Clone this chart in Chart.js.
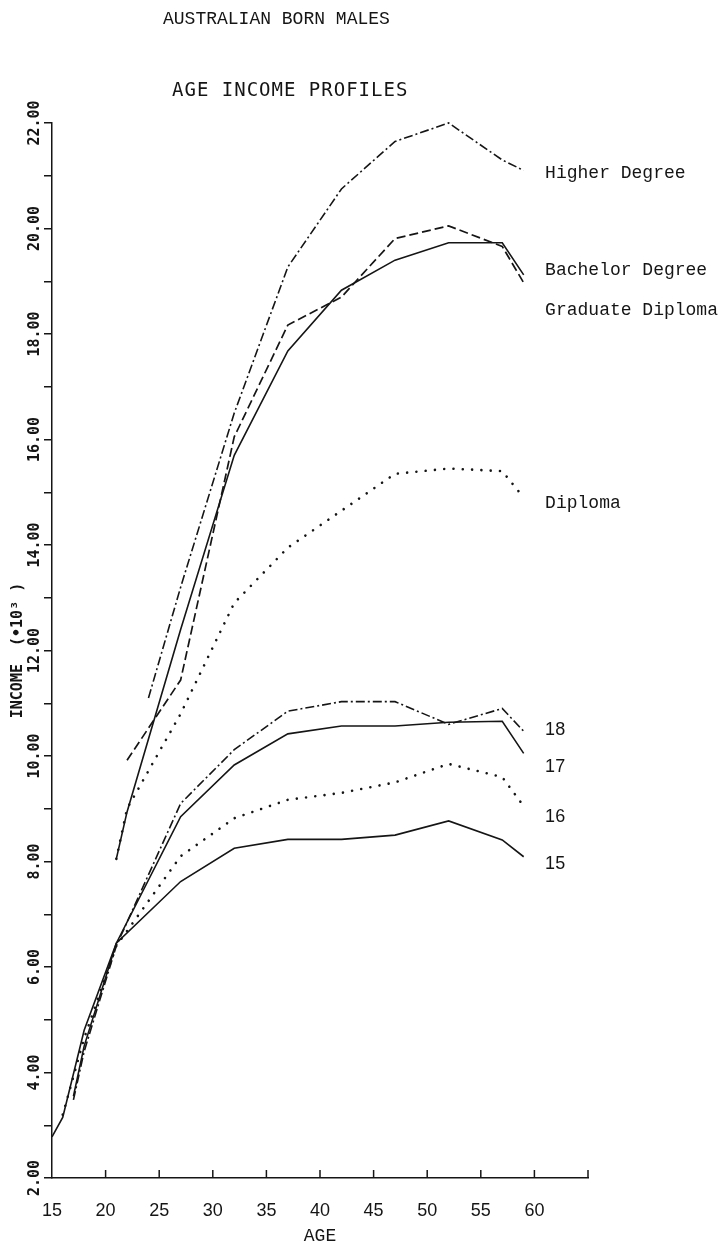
<!DOCTYPE html>
<html>
<head>
<meta charset="utf-8">
<script src="https://cdn.jsdelivr.net/npm/chart.js@4/dist/chart.umd.min.js"></script>
<style>
  html, body { margin: 0; padding: 0; background: #fff; }
  #wrap { width: 726px; height: 1247px; position: relative; }
</style>
</head>
<body>
<div id="wrap"><canvas id="c"></canvas></div>
<script>
// ---------- DATA ----------
const TITLE = 'AUSTRALIAN BORN MALES';
const SUBTITLE = 'AGE INCOME PROFILES';
const X_TITLE = 'AGE';
const Y_TITLE = 'INCOME  (\u202210\u00B3 )';

const X_TICKS = [15, 20, 25, 30, 35, 40, 45, 50, 55, 60, 65];
const Y_TICK_LABELS = ['2.00','4.00','6.00','8.00','10.00','12.00','14.00','16.00','18.00','20.00','22.00'];

const SERIES_NAMES = ['Higher Degree', 'Bachelor Degree', 'Graduate Diploma', 'Diploma', '18', '17', '16', '15'];

const AGE_HIGHER = [24, 27, 32, 37, 42, 47, 52, 57, 59];
const INC_HIGHER = [11.1, 13.2, 16.5, 19.27, 20.75, 21.65, 22.0, 21.3, 21.1];

const AGE_BACHELOR = [21, 22, 27, 32, 37, 42, 47, 52, 57, 59];
const INC_BACHELOR = [8.05, 8.94, 12.4, 15.7, 17.68, 18.83, 19.4, 19.73, 19.73, 19.12];

const AGE_GRADDIP = [22, 27, 32, 37, 42, 47, 52, 57, 59];
const INC_GRADDIP = [9.92, 11.44, 16.05, 18.17, 18.7, 19.81, 20.05, 19.66, 18.97];

const AGE_DIPLOMA = [21, 22, 27, 32, 37, 42, 47, 52, 57, 59];
const INC_DIPLOMA = [8.05, 9.0, 10.8, 12.9, 13.95, 14.65, 15.35, 15.45, 15.4, 14.9];

const AGE_18 = [17, 18, 21, 27, 32, 37, 42, 47, 52, 57, 59];
const INC_18 = [3.48, 4.4, 6.4, 9.1, 10.12, 10.85, 11.03, 11.03, 10.6, 10.9, 10.47];

const AGE_17 = [17, 18, 21, 27, 32, 37, 42, 47, 52, 57, 59];
const INC_17 = [3.55, 4.5, 6.45, 8.85, 9.83, 10.42, 10.57, 10.57, 10.64, 10.66, 10.05];

const AGE_16 = [16, 18, 21, 27, 32, 37, 42, 47, 52, 57, 59];
const INC_16 = [3.2, 4.65, 6.4, 8.1, 8.82, 9.17, 9.3, 9.5, 9.85, 9.6, 9.05];

const AGE_15 = [15, 16, 18, 21, 27, 32, 37, 42, 47, 52, 57, 59];
const INC_15 = [2.78, 3.15, 4.8, 6.45, 7.62, 8.25, 8.42, 8.42, 8.5, 8.77, 8.41, 8.09];

// ---------- helpers ----------
const pts = (xs, ys) => xs.map((x, i) => ({ x, y: ys[i] }));
const INK = '#151515';

const STYLE = {
  solid:   { borderDash: [], borderWidth: 1.6, borderCapStyle: 'butt' },
  dashed:  { borderDash: [9, 4], borderWidth: 1.7, borderCapStyle: 'butt' },
  dashdot: { borderDash: [9, 3, 2, 3], borderWidth: 1.6, borderCapStyle: 'butt' },
  dotted:  { borderDash: [0.01, 9.3], borderWidth: 2.6, borderCapStyle: 'round' }
};

function ds(label, xs, ys, style) {
  return Object.assign({
    label, data: pts(xs, ys), borderColor: INK, pointRadius: 0,
    tension: 0, fill: false, clip: 6
  }, STYLE[style]);
}

const datasets = [
  ds(SERIES_NAMES[0], AGE_HIGHER, INC_HIGHER, 'dashdot'),
  ds(SERIES_NAMES[1], AGE_BACHELOR, INC_BACHELOR, 'solid'),
  ds(SERIES_NAMES[2], AGE_GRADDIP, INC_GRADDIP, 'dashed'),
  ds(SERIES_NAMES[3], AGE_DIPLOMA, INC_DIPLOMA, 'dotted'),
  ds(SERIES_NAMES[4], AGE_18, INC_18, 'dashdot'),
  ds(SERIES_NAMES[5], AGE_17, INC_17, 'solid'),
  ds(SERIES_NAMES[6], AGE_16, INC_16, 'dotted'),
  ds(SERIES_NAMES[7], AGE_15, INC_15, 'solid')
];

// y tick label font & measured width (to centre the rotated labels on the ticks)
const Y_FONT = { family: '"DejaVu Sans Mono", monospace', size: 15, weight: 'bold' };
const mctx = document.createElement('canvas').getContext('2d');
mctx.font = 'bold 15px "DejaVu Sans Mono"';
const yLabelW = mctx.measureText('22.00').width;
const Y_TICK_LEN = 8;
const Y_LABEL_CENTER_OFFSET = 17; // distance from axis to label centre
const yPad = Y_LABEL_CENTER_OFFSET - Y_TICK_LEN - yLabelW / 2;

// annotation plugin: titles, inward x ticks, end-of-line labels
const annotate = {
  id: 'annotate',
  afterDraw(chart, args, opts) {
    const { ctx, scales: { x, y } } = chart;
    ctx.save();
    ctx.strokeStyle = INK;
    ctx.lineWidth = 1.5;
    x.ticks.forEach(t => {
      if (t.value === x.min) return;
      const px = x.getPixelForValue(t.value);
      ctx.beginPath();
      ctx.moveTo(px, y.bottom);
      ctx.lineTo(px, y.bottom - 8);
      ctx.stroke();
    });
    ctx.fillStyle = INK;
    ctx.textBaseline = 'middle';
    ctx.textAlign = 'left';
    ctx.font = '18px "Liberation Mono"';
    ctx.fillText(TITLE, 163, 19);
    ctx.font = '19px "DejaVu Sans Mono"';
    if ('letterSpacing' in ctx) ctx.letterSpacing = '1px';
    ctx.fillText(SUBTITLE, 172, 91);
    if ('letterSpacing' in ctx) ctx.letterSpacing = '0px';
    const lx = x.getPixelForValue(opts.labelAge);
    SERIES_NAMES.forEach((name, i) => {
      const isNum = /^\d+$/.test(name);
      ctx.font = isNum ? '18px "Liberation Sans"' : '18px "Liberation Mono"';
      ctx.fillText(name, lx, y.getPixelForValue(opts.labelAt[i]));
    });
    ctx.restore();
  }
};

new Chart(document.getElementById('c'), {
  type: 'line',
  data: { datasets },
  plugins: [annotate],
  options: {
    responsive: true,
    maintainAspectRatio: false,
    animation: false,
    devicePixelRatio: 1,
    layout: { padding: { left: 0, right: 138, top: 123, bottom: 0 } },
    plugins: {
      legend: { display: false },
      tooltip: { enabled: false },
      annotate: {
        labelAge: 61,
        labelAt: [21.05, 19.2, 18.45, 14.8, 10.5, 9.8, 8.85, 7.95]
      }
    },
    scales: {
      x: {
        type: 'linear',
        min: 15, max: 65,
        afterBuildTicks: s => { s.ticks = X_TICKS.map(v => ({ value: v })); },
        afterFit: s => { s.height = 69; },
        grid: { display: false },
        border: { display: true, color: INK, width: 1.5 },
        ticks: {
          autoSkip: false, maxRotation: 0, minRotation: 0, padding: 14,
          color: INK,
          font: { family: '"Liberation Sans", sans-serif', size: 18 },
          callback: v => (v <= 60 ? String(v) : '')
        },
        title: {
          display: true, text: X_TITLE, color: INK,
          font: { family: '"Liberation Mono", monospace', size: 18 },
          padding: { top: 0, bottom: 0 }
        }
      },
      y: {
        type: 'linear',
        min: 2, max: 22,
        afterFit: s => { s.width = 52; },
        grid: { drawOnChartArea: false, drawTicks: true, tickLength: Y_TICK_LEN, color: INK, lineWidth: 1.5 },
        border: { display: true, color: INK, width: 1.5 },
        ticks: {
          stepSize: 1, autoSkip: false,
          minRotation: 90, maxRotation: 90,
          crossAlign: 'center',
          padding: yPad,
          color: INK,
          font: Y_FONT,
          callback: v => {
            const idx = (v - 2) / 2;
            return Number.isInteger(idx) ? Y_TICK_LABELS[idx] : '';
          }
        },
        title: {
          display: true, text: Y_TITLE, color: INK,
          font: { family: '"DejaVu Sans Mono", monospace', size: 15, weight: 'bold' },
          padding: { top: 9, bottom: 0 }
        }
      }
    }
  }
});
</script>
</body>
</html>
